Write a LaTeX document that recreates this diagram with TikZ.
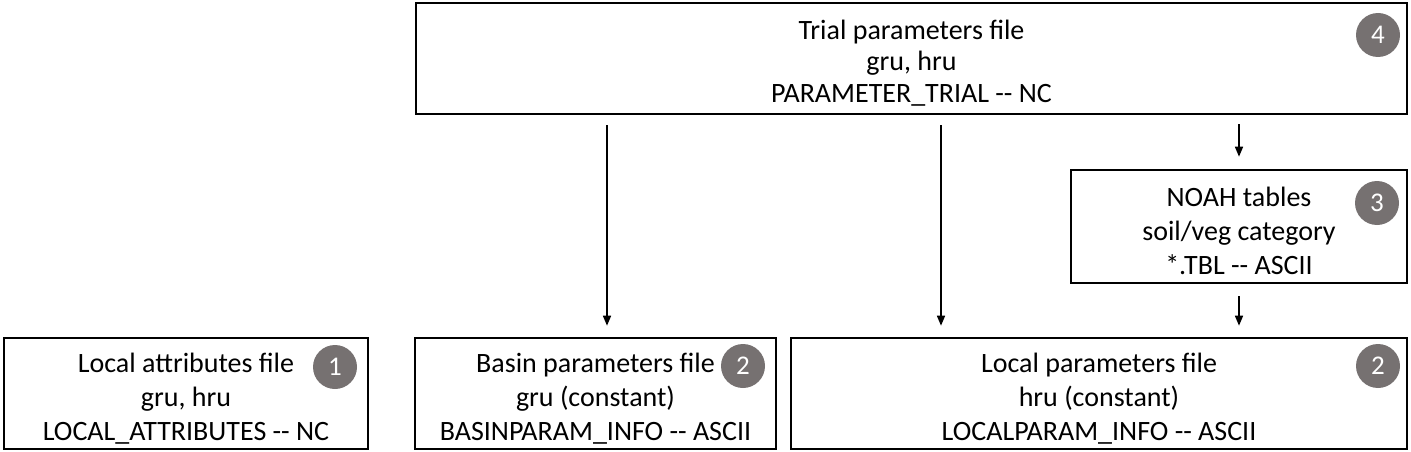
\documentclass[tikz,border=0pt]{standalone}
\usepackage{fontspec}
\setmainfont{Carlito}[Ligatures=TeXOff]
\usetikzlibrary{arrows.meta}
\definecolor{badgegray}{RGB}{118,113,113}
\begin{document}
\begin{tikzpicture}[x=1pt,y=-1pt,
  box/.style={draw=black, line width=2.6pt, inner sep=0pt},
  txt/.style={inner sep=0pt, align=center, font=\fontsize{28}{34}\selectfont},
  txttop/.style={inner sep=0pt, align=center, font=\fontsize{28}{31.5}\selectfont},
  badge/.style={circle, fill=badgegray, text=white, minimum size=44pt, inner sep=0pt,
    font=\fontsize{27}{27}\selectfont},
  arr/.style={line width=1.6pt, -{Triangle[length=10pt,width=8pt]}}]
\useasboundingbox (0,0) rectangle (1411,452);

% boxes
\node[box, minimum width=991pt, minimum height=111pt] (top) at (911.5,58.5) {};
\node[box, minimum width=336pt, minimum height=113pt] (noah) at (1239,226.5) {};
\node[box, minimum width=364pt, minimum height=111pt] (la) at (186,393.5) {};
\node[box, minimum width=361pt, minimum height=111pt] (bp) at (595.5,393.5) {};
\node[box, minimum width=616pt, minimum height=111pt] (lp) at (1099,393.5) {};

% texts
\node[txttop, yshift=-4.5pt] (toptext) at (top.center)
  {Trial parameters file\\gru, hru\\PARAMETER\_TRIAL -- NC};
\node[txt, yshift=-4pt] (noahtext) at (noah.center)
  {NOAH tables\\soil/veg category\\*.TBL -- ASCII};
\node[txt, yshift=-5pt] (latext) at (la.center)
  {Local attributes file\\gru, hru\\LOCAL\_ATTRIBUTES -- NC};
\node[txt, yshift=-5pt] (bptext) at (bp.center)
  {Basin parameters file\\gru (constant)\\BASINPARAM\_INFO -- ASCII};
\node[txt, yshift=-5pt] (lptext) at (lp.center)
  {Local parameters file\\hru (constant)\\LOCALPARAM\_INFO -- ASCII};

% badges
\node[badge] (b4) at (1378,35) {4};
\node[badge] (b3) at (1377,203) {3};
\node[badge] (b1) at (335,367) {1};
\node[badge] (b2a) at (743,366) {2};
\node[badge] (b2b) at (1378,366) {2};

% connectors
\coordinate (x1) at (607,0);
\coordinate (x2) at (941,0);
\draw[arr, shorten <=10pt, shorten >=11pt] (top.south -| x1) -- (bp.north -| x1);
\draw[arr, shorten <=10pt, shorten >=11pt] (top.south -| x2) -- (lp.north -| x2);
\draw[arr, shorten <=9pt, shorten >=12pt] (top.south -| noah.north) -- (noah.north);
\draw[arr, shorten <=12pt, shorten >=11pt] (noah.south) -- (lp.north -| noah.south);
\end{tikzpicture}
\end{document}
